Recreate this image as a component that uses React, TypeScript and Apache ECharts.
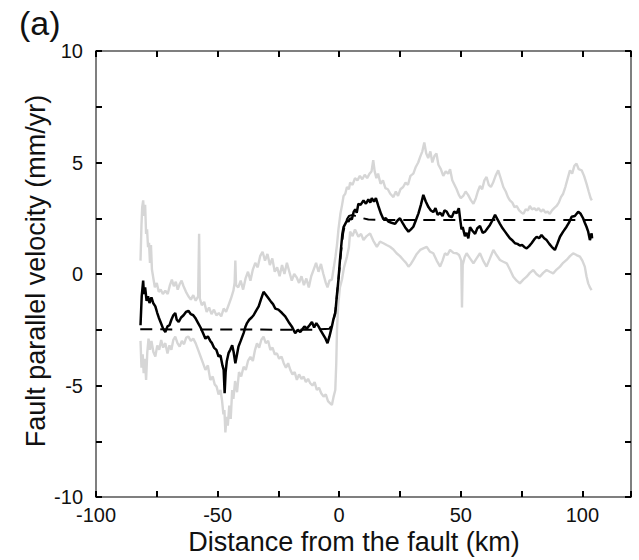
import React, { useEffect, useRef } from "react";
import * as echarts from "echarts";

const xTickLabels = [-100, -50, 0, 50, 100];
const yTickLabels = [-10, -5, 0, 5, 10];

const meanVelocity = [
  [-81.7,-2.3],[-81.2,-1.0],[-80.6,-0.3],[-80.3,-0.9],[-79.8,-0.6],[-79.2,-1.2],[-78.6,-1.0],[-78.0,-1.3],[-77.2,-1.05],[-76.5,-1.3],
  [-75.6,-1.45],[-74.8,-1.75],[-74.2,-1.95],[-73.3,-2.2],[-72.4,-2.45],[-71.5,-2.6],[-70.6,-2.35],[-69.8,-2.3],[-69.0,-2.05],[-68.2,-1.85],
  [-67.4,-1.75],[-66.8,-2.05],[-66.0,-2.15],[-65.0,-1.95],[-64.0,-1.85],[-63.0,-1.7],[-62.0,-1.65],[-61.0,-1.8],[-60.0,-1.85],[-59.0,-2.0],
  [-58.0,-2.2],[-57.0,-2.4],[-56.0,-2.65],[-55.0,-2.9],[-54.0,-2.8],[-53.0,-3.0],[-52.3,-3.1],[-51.5,-3.3],[-50.5,-3.4],[-49.6,-3.7],
  [-48.8,-3.65],[-48.0,-4.1],[-47.5,-4.3],[-47.1,-5.35],[-46.7,-4.4],[-46.2,-3.9],[-45.5,-3.55],[-44.8,-3.4],[-44.0,-3.2],[-43.4,-3.5],
  [-42.7,-4.0],[-42.0,-3.6],[-41.4,-3.25],[-40.5,-3.0],[-39.3,-2.65],[-38.5,-2.35],[-37.9,-2.2],[-37.0,-2.05],[-36.0,-1.95],[-35.2,-1.85],
  [-34.2,-1.65],[-33.1,-1.45],[-32.2,-1.15],[-31.1,-0.8],[-30.0,-0.95],[-29.0,-1.1],[-28.0,-1.25],[-27.2,-1.35],[-26.3,-1.55],[-25.0,-1.6],
  [-23.5,-1.75],[-22.2,-1.9],[-20.8,-2.15],[-19.5,-2.35],[-18.1,-2.65],[-17.0,-2.5],[-16.0,-2.6],[-15.3,-2.5],[-14.3,-2.35],[-13.3,-2.45],
  [-12.2,-2.3],[-11.2,-2.15],[-10.3,-2.4],[-9.4,-2.2],[-8.5,-2.35],[-7.5,-2.55],[-6.4,-2.75],[-5.6,-2.9],[-4.8,-3.1],[-4.0,-2.8],
  [-3.0,-2.35],[-2.3,-2.0],[-1.6,-1.75],[-0.9,-0.9],[-0.3,-0.25],[0.3,0.6],[0.8,1.2],[1.3,1.8],[1.8,2.1],[2.5,2.25],
  [3.2,2.4],[3.8,2.35],[4.5,2.5],[5.2,2.45],[6.0,2.8],[6.6,2.9],[7.2,2.75],[7.9,3.15],[8.8,3.1],[10.0,3.3],
  [11.0,3.15],[12.0,3.35],[12.8,3.2],[13.4,3.4],[14.3,3.25],[15.1,3.4],[16.1,3.05],[17.2,2.7],[18.2,2.45],[19.2,2.5],
  [20.2,2.35],[21.5,2.3],[23.0,2.25],[24.0,2.4],[25.0,2.5],[26.0,2.3],[27.1,2.1],[28.5,1.9],[29.5,2.0],[30.5,2.12],
  [31.5,2.4],[32.6,2.72],[33.6,3.1],[34.6,3.55],[35.6,3.25],[36.7,3.0],[37.7,2.85],[38.7,2.78],[39.6,2.95],[40.5,2.65],
  [41.5,2.75],[42.5,2.6],[43.3,2.85],[44.2,2.8],[45.2,2.6],[46.3,2.55],[47.3,2.8],[48.3,2.72],[49.2,2.95],[49.7,2.5],
  [50.3,2.0],[50.8,2.1],[51.7,1.7],[52.4,1.85],[53.1,1.6],[53.8,2.1],[54.7,1.95],[55.9,1.8],[56.8,2.05],[57.9,2.15],
  [59.0,1.85],[60.0,1.9],[61.0,2.05],[62.0,2.2],[63.0,2.4],[64.1,2.65],[65.1,2.45],[66.1,2.25],[67.2,2.05],[68.2,1.9],
  [69.2,1.75],[70.2,1.6],[71.3,1.5],[72.3,1.38],[73.3,1.35],[74.3,1.28],[75.3,1.3],[76.2,1.2],[77.1,1.15],[78.1,1.25],
  [79.1,1.38],[80.2,1.55],[81.2,1.67],[82.2,1.6],[83.2,1.75],[84.3,1.6],[85.3,1.52],[86.4,1.35],[87.4,1.22],[88.7,1.08],
  [89.7,1.35],[90.8,1.67],[92.1,1.9],[93.5,2.12],[94.5,2.3],[95.6,2.57],[96.9,2.6],[98.3,2.79],[99.3,2.7],[100.3,2.5],
  [101.0,2.3],[101.7,2.12],[102.4,1.9],[103.1,1.52],[103.8,1.82],[104.0,1.6]
];

const upperBound = [
  [-81.7,0.6],[-81.3,2.2],[-81.0,3.0],[-80.6,3.3],[-80.2,2.6],[-79.8,3.1],[-79.4,1.8],[-79.0,2.0],[-78.6,1.2],[-78.2,1.4],
  [-77.8,0.5],[-77.4,1.3],[-77.0,0.2],[-76.4,-0.2],[-75.8,-0.6],[-75.0,-0.4],[-74.2,-0.8],[-73.4,-0.7],[-72.5,-0.9],[-71.5,-0.75],
  [-70.5,-0.9],[-69.6,-0.5],[-68.8,-0.25],[-68.0,-0.55],[-67.2,-0.35],[-66.4,-0.7],[-65.6,-0.45],[-64.8,-0.3],[-64.0,-0.55],[-63.0,-0.8],
  [-62.0,-1.0],[-61.0,-1.15],[-60.0,-0.95],[-59.0,-1.2],[-58.0,-1.0],[-57.6,1.8],[-57.3,-1.1],[-56.5,-1.4],[-55.5,-1.25],[-54.5,-1.7],
  [-53.5,-1.5],[-52.5,-1.8],[-51.5,-1.6],[-50.5,-1.85],[-49.5,-1.75],[-48.5,-1.9],[-47.5,-1.55],[-46.5,-1.7],[-45.5,-1.4],[-44.5,-1.1],
  [-43.5,-0.75],[-43.0,-0.4],[-42.7,0.6],[-42.4,-0.5],[-41.5,-0.6],[-40.5,-0.3],[-39.5,-0.7],[-38.5,-0.2],[-37.5,0.1],[-36.5,-0.3],
  [-35.5,0.2],[-34.5,0.5],[-33.5,0.3],[-32.5,0.8],[-31.5,1.0],[-30.5,0.6],[-29.5,0.9],[-28.5,0.4],[-27.5,0.7],[-26.5,0.1],
  [-25.5,0.3],[-24.5,-0.1],[-23.5,0.4],[-22.5,0.0],[-21.5,0.5],[-20.5,0.1],[-19.5,-0.3],[-18.5,0.0],[-17.5,-0.15],[-16.5,-0.4],
  [-15.5,-0.1],[-14.5,-0.5],[-13.5,-0.2],[-12.5,-0.6],[-11.5,-0.1],[-10.5,0.2],[-9.5,0.5],[-8.5,0.1],[-7.5,0.45],[-6.5,0.0],
  [-5.5,-0.4],[-4.8,-0.6],[-4.0,-0.3],[-3.0,-0.25],[-2.2,0.3],[-1.5,0.8],[-0.9,1.3],[-0.3,2.0],[0.5,2.7],[1.2,3.1],
  [1.8,3.5],[2.5,3.6],[3.2,3.9],[4.0,3.8],[4.5,4.1],[5.5,4.0],[6.5,4.3],[7.5,4.2],[8.5,4.4],[9.5,4.25],
  [10.5,4.45],[11.5,4.3],[12.5,4.5],[13.3,4.6],[14.0,5.1],[14.6,4.6],[15.3,4.3],[16.0,4.5],[17.0,4.05],[18.0,4.2],
  [19.0,3.85],[20.0,3.8],[21.0,3.6],[22.3,3.45],[23.3,3.7],[24.2,3.5],[25.2,3.8],[26.3,3.9],[27.3,4.1],[28.3,4.0],
  [29.3,4.4],[30.5,4.5],[31.5,4.8],[32.5,5.0],[33.3,5.25],[34.2,5.5],[35.0,5.9],[35.8,5.4],[36.6,5.2],[37.5,5.5],
  [38.3,5.0],[39.2,5.3],[40.0,5.4],[40.8,4.9],[41.8,4.7],[42.8,4.4],[43.8,4.6],[44.8,4.5],[45.6,4.7],[46.5,4.2],
  [47.4,4.0],[48.3,3.8],[49.2,3.55],[50.0,3.4],[51.0,3.5],[52.0,3.7],[53.0,3.55],[54.2,3.3],[55.2,3.15],[56.2,3.4],
  [57.0,3.7],[57.9,3.95],[58.8,3.8],[59.7,4.2],[60.6,4.35],[61.5,4.0],[62.4,3.9],[63.3,4.1],[64.3,4.4],[65.4,4.65],
  [66.4,4.3],[67.5,3.9],[68.5,3.7],[69.4,3.45],[70.2,3.3],[71.2,3.2],[72.1,3.0],[73.0,3.05],[74.0,2.85],[75.0,2.75],
  [75.8,2.7],[76.7,2.9],[77.6,2.85],[78.4,3.05],[79.3,2.9],[80.2,2.95],[81.1,2.85],[82.0,2.95],[83.0,2.8],[83.9,2.9],
  [84.8,2.75],[85.7,2.8],[86.6,2.7],[87.5,2.85],[88.4,2.95],[89.4,3.05],[90.3,3.2],[91.2,3.45],[92.1,3.6],[93.0,3.9],
  [94.0,4.3],[94.9,4.65],[95.8,4.5],[96.7,4.85],[97.6,4.95],[98.5,4.7],[99.7,4.65],[100.7,4.4],[101.7,4.05],[102.6,3.7],
  [103.4,3.4],[103.9,3.3]
];

const lowerBound = [
  [-81.7,-3.0],[-81.3,-4.2],[-80.8,-3.6],[-80.4,-4.45],[-79.9,-3.8],[-79.4,-4.75],[-78.9,-3.5],[-78.4,-2.9],[-77.8,-3.4],[-77.2,-3.0],
  [-76.4,-3.5],[-75.6,-3.7],[-74.8,-3.2],[-74.0,-3.4],[-73.2,-2.96],[-72.4,-3.3],[-71.5,-3.1],[-70.6,-3.56],[-69.8,-3.2],[-69.0,-3.4],
  [-68.2,-2.95],[-67.4,-2.81],[-66.5,-3.1],[-65.6,-3.26],[-64.7,-3.0],[-63.8,-3.15],[-62.9,-2.85],[-62.0,-2.81],[-61.0,-3.0],[-60.0,-2.9],
  [-59.0,-3.11],[-58.0,-3.4],[-57.0,-3.7],[-56.0,-4.0],[-55.0,-4.3],[-54.0,-4.1],[-53.0,-4.75],[-52.0,-4.6],[-51.2,-4.95],[-50.4,-5.05],
  [-49.6,-5.4],[-48.8,-5.2],[-48.2,-5.65],[-47.6,-6.3],[-47.2,-6.1],[-46.8,-7.1],[-46.3,-6.4],[-45.8,-6.8],[-45.2,-5.9],[-44.6,-6.5],
  [-44.0,-5.2],[-43.5,-5.6],[-42.8,-4.8],[-42.0,-5.3],[-41.2,-4.4],[-40.3,-4.6],[-39.3,-4.16],[-38.4,-4.3],[-37.5,-3.9],[-36.5,-3.71],
  [-35.5,-3.9],[-34.6,-3.4],[-33.8,-3.11],[-32.9,-3.3],[-32.0,-2.95],[-31.1,-2.81],[-30.2,-3.1],[-29.2,-3.0],[-28.3,-3.41],[-27.4,-3.3],
  [-26.5,-3.6],[-25.6,-3.56],[-24.7,-3.8],[-23.7,-3.7],[-22.8,-4.0],[-21.9,-4.2],[-21.0,-4.0],[-20.1,-4.3],[-19.2,-4.5],[-18.3,-4.4],
  [-17.4,-4.75],[-16.5,-4.5],[-15.5,-4.7],[-14.6,-4.6],[-13.7,-4.85],[-12.8,-4.7],[-11.9,-4.9],[-11.0,-5.0],[-10.1,-4.85],[-9.2,-5.2],
  [-8.3,-5.1],[-7.4,-5.35],[-6.4,-5.5],[-5.5,-5.4],[-4.6,-5.7],[-3.7,-5.8],[-3.0,-5.87],[-2.3,-5.5],[-1.6,-5.2],[-1.2,-4.0],
  [-0.9,-2.5],[-0.4,-1.4],[0.3,-0.6],[1.1,-0.27],[2.0,0.3],[3.2,0.78],[4.0,1.2],[4.5,1.9],[5.5,1.7],[6.5,2.0],
  [7.9,1.67],[9.0,1.8],[10.0,1.52],[11.3,1.7],[12.7,1.82],[14.0,1.5],[15.5,1.22],[16.8,1.45],[18.2,1.38],[19.5,1.3],
  [20.9,1.22],[22.3,1.1],[23.6,0.93],[25.0,0.8],[26.4,0.63],[27.5,0.5],[28.5,0.33],[29.5,0.45],[30.5,0.63],[31.9,0.9],
  [33.3,1.08],[34.6,1.15],[36.0,1.22],[37.3,1.0],[38.7,0.93],[40.1,0.6],[41.5,0.33],[42.5,0.6],[43.5,0.93],[44.5,0.85],
  [45.6,1.08],[47.0,0.95],[48.3,0.93],[49.3,0.85],[50.2,0.6],[50.5,-1.5],[50.8,0.4],[51.6,0.75],[52.4,0.93],[53.8,0.7],
  [55.2,0.48],[56.5,0.7],[57.9,0.93],[59.2,0.6],[60.6,0.33],[62.0,0.7],[63.4,1.08],[64.7,0.85],[66.1,0.63],[67.5,0.55],
  [68.9,0.48],[70.2,0.2],[71.6,-0.12],[73.0,-0.3],[74.3,-0.42],[75.7,-0.25],[77.1,-0.12],[78.4,0.05],[79.8,0.18],[81.1,0.0],
  [82.5,-0.12],[83.9,0.05],[85.3,0.18],[86.6,0.1],[88.0,0.03],[89.4,0.2],[90.8,0.33],[92.1,0.5],[93.5,0.63],[94.9,0.8],
  [96.2,0.93],[97.6,0.85],[99.0,0.78],[100.0,0.6],[101.0,0.33],[101.7,-0.1],[102.4,-0.42],[103.1,-0.6],[103.8,-0.72]
];

const modelVelocity = [
  [-81.8,-2.48],[-10,-2.5],[-4,-2.45],[-2.5,-2.2],[-1.5,-1.6],[-0.7,-0.7],[0,0.1],[0.8,1.0],[1.6,1.8],[2.6,2.35],
  [4,2.6],[5.5,2.65],[8,2.55],[12,2.44],[20,2.42],[104,2.42]
];

const FONT = "'Liberation Sans', Arial, Helvetica, sans-serif";

function mkTick() {
  return { show: true, inside: true, length: 6, lineStyle: { color: "black", width: 2 } };
}
function mkLine() {
  return { show: true, onZero: false, lineStyle: { color: "#555", width: 1.5 } };
}

export default function App() {
  const ref = useRef<HTMLDivElement>(null);
  useEffect(() => {
    document.body.style.margin = "0";
    const chart = echarts.init(ref.current as HTMLDivElement, null, { renderer: "svg" });
    chart.setOption({
      animation: false,
      backgroundColor: "#fff",
      grid: { left: 96, top: 51, width: 535, height: 446, show: false },
      xAxis: [
        {
          type: "value", min: -100, max: 120, interval: 25, position: "bottom", z: 10,
          axisLine: mkLine(), axisTick: mkTick(), splitLine: { show: false },
          axisLabel: {
            formatter: (v: number) => (xTickLabels.includes(v) ? String(v) : ""),
            fontSize: 20, color: "#111", fontFamily: FONT, margin: 8,
          },
        },
        {
          type: "value", min: -100, max: 120, interval: 25, position: "top", z: 10,
          axisLine: mkLine(), axisTick: mkTick(), splitLine: { show: false }, axisLabel: { show: false },
        },
      ],
      yAxis: [
        {
          type: "value", min: -10, max: 10, interval: 2.5, position: "left", z: 10,
          axisLine: mkLine(), axisTick: mkTick(), splitLine: { show: false },
          axisLabel: {
            formatter: (v: number) => (yTickLabels.includes(v) ? String(v) : ""),
            fontSize: 20, color: "#111", fontFamily: FONT, margin: 13,
          },
        },
        {
          type: "value", min: -10, max: 10, interval: 2.5, position: "right", z: 10,
          axisLine: mkLine(), axisTick: mkTick(), splitLine: { show: false }, axisLabel: { show: false },
        },
      ],
      series: [
        { type: "line", data: upperBound, showSymbol: false, lineStyle: { color: "#d6d6d6", width: 2.4 } },
        { type: "line", data: lowerBound, showSymbol: false, lineStyle: { color: "#d6d6d6", width: 2.4 } },
        { type: "line", data: meanVelocity, showSymbol: false, lineStyle: { color: "#000", width: 2.5 } },
        { type: "line", data: modelVelocity, showSymbol: false, lineStyle: { color: "#000", width: 2, type: [12, 8] } },
      ],
      graphic: [
        { type: "text", left: 19, top: 6, style: { text: "(a)", font: `34px ${FONT}`, fill: "#111" } },
        { type: "text", x: 354, y: 542, style: { text: "Distance from the fault (km)", font: `27px ${FONT}`, fill: "#111", align: "center", verticalAlign: "middle" } },
        { type: "text", x: 36, y: 271, rotation: Math.PI / 2, style: { text: "Fault parallel velocity (mm/yr)", font: `27px ${FONT}`, fill: "#111", align: "center", verticalAlign: "middle" } },
      ],
    });
    return () => chart.dispose();
  }, []);
  return <div ref={ref} style={{ width: 639, height: 560 }} />;
}
